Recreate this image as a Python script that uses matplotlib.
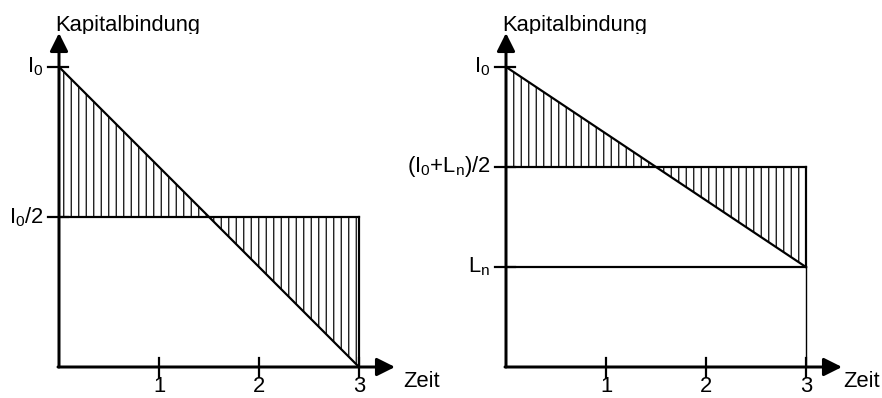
import matplotlib
matplotlib.use("Agg")
import matplotlib.pyplot as plt
import numpy as np
from matplotlib.transforms import Bbox, TransformedBbox

DPI = 90  # hatch "||" then gives ~7.5 px spacing like the reference
PT = 72 / DPI  # points per pixel

plt.rcParams["font.family"] = ["Liberation Sans", "DejaVu Sans"]
plt.rcParams["mathtext.fontset"] = "custom"
plt.rcParams["mathtext.rm"] = "Liberation Sans"
plt.rcParams["mathtext.it"] = "Liberation Sans"
plt.rcParams["hatch.linewidth"] = 1.2 * PT
plt.rcParams["hatch.color"] = "black"

# values (I0 = 1)
time_ticks = [1, 2, 3]
invest = 1.0
residual_left = 0.0
residual_right = 0.333
avg_left = 0.5
avg_right = 0.667
labels_left = [r"$\mathrm{I_0}$", r"$\mathrm{I_0/2}$"]
labels_right = [r"$\mathrm{I_0}$", r"$\mathrm{(I_0{+}L_n)/2}$", r"$\mathrm{L_n}$"]

FS = 22 * PT
LW = 2.2 * PT
XMAX, YMAX = 3.36, 1.113

fig = plt.figure(figsize=(882 / DPI, 398 / DPI), dpi=DPI)


def draw_panel(left_px, residual, avg, ylabels, zeit_gap):
    ax = fig.add_axes([left_px / 882, 31 / 398, 336 / 882, 334 / 398])
    ax.set_xlim(0, XMAX)
    ax.set_ylim(0, YMAX)
    ax.axis("off")

    T = time_ticks[-1]
    t = np.array([0, T])
    line = np.array([invest, residual])

    # hatched area between straight-line depreciation and average
    ax.fill_between(t, line, avg, facecolor="none", edgecolor="black",
                    hatch="||", linewidth=0, interpolate=True)
    ax.plot(t, line, color="black", lw=LW)
    ax.plot([0, T], [avg, avg], color="black", lw=LW)
    ax.plot([T, T], [residual, avg], color="black", lw=LW)
    if residual > 0:
        ax.plot([0, T], [residual, residual], color="black", lw=LW)
        ax.plot([T, T], [0, residual], color="black", lw=1.4 * PT)

    # axes with arrows
    arrow = dict(arrowstyle="-|>,head_length=0.8,head_width=0.4", lw=3 * PT,
                 color="black", shrinkA=0, shrinkB=0, mutation_scale=19 * PT)
    ax.annotate("", xy=(0, YMAX), xytext=(0, 0), arrowprops=arrow, annotation_clip=False)
    ax.annotate("", xy=(XMAX, 0), xytext=(-0.01, 0), arrowprops=arrow, annotation_clip=False)

    # x ticks (crossing the axis)
    for k in time_ticks:
        ax.plot([k, k], [-0.033, 0.03], color="black", lw=LW, clip_on=False)
        ax.text(k, -0.03, str(k), ha="center", va="top", fontsize=FS)
    ax.text(XMAX + zeit_gap, -0.047, "Zeit", ha="left", va="center", fontsize=FS)

    # y ticks (crossing the axis)
    levels = [invest, avg] + ([residual] if residual > 0 else [])
    for lv, lab in zip(levels, ylabels):
        ax.plot([-0.11, 0.09], [lv, lv], color="black", lw=LW, clip_on=False)
        ax.text(-0.155, lv, lab, ha="right", va="center", fontsize=FS)

    # axis title, bottom cut off at the arrow tip as in the original
    title = ax.text(-0.04, 1.121, "Kapitalbindung", ha="left", va="baseline",
                    fontsize=FS)
    clip = TransformedBbox(Bbox([[0, (398 - 33.5) / 398], [1, 1]]), fig.transFigure)
    title.set_clip_box(clip)
    title.set_clip_on(True)


draw_panel(59, residual_left, avg_left, labels_left, 0.08)
draw_panel(506, residual_right, avg_right, labels_right, 0.01)

fig.savefig("out.png", dpi=DPI)
